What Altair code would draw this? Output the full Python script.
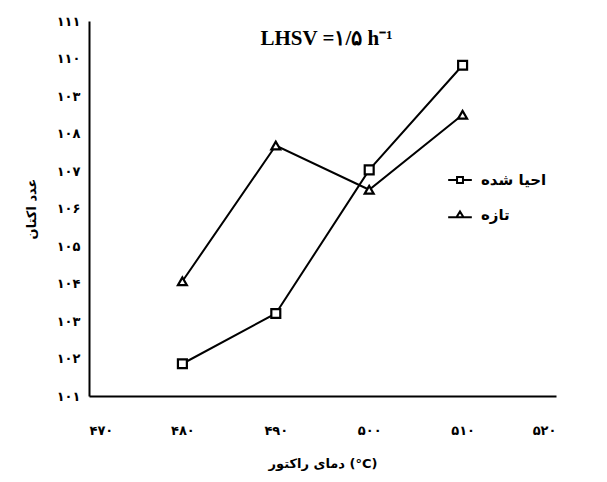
import altair as alt
import pandas as pd

temps = [480, 490, 500, 510]
regenerated = [101.86, 103.2, 107.03, 109.82]
fresh = [104.06, 107.68, 106.5, 108.5]
series_names = ["احیا شده", "تازه"]

x_ticks = [470, 480, 490, 500, 510, 520]
x_tick_labels = ["۴۷۰", "۴۸۰", "۴۹۰", "۵۰۰", "۵۱۰", "۵۲۰"]
y_ticks = list(range(101, 112))
y_tick_labels = ["۱۰۱", "۱۰۲", "۱۰۳", "۱۰۴", "۱۰۵", "۱۰۶", "۱۰۷", "۱۰۸", "۱۰۳", "۱۱۰", "۱۱۱"]

rows = []
for t, v in zip(temps, regenerated):
    rows.append({"T": t, "v": v, "s": series_names[0]})
for t, v in zip(temps, fresh):
    rows.append({"T": t, "v": v, "s": series_names[1]})
df = pd.DataFrame(rows)

def arr(lst):
    return "[" + ",".join("'" + s + "'" for s in lst) + "]"

FONT = "DejaVu Sans"

x_enc = alt.X("T:Q", scale=alt.Scale(domain=[470, 520]),
              axis=alt.Axis(values=x_ticks, labelExpr=arr(x_tick_labels) + "[(datum.value-470)/10]",
                            title="دمای راکتور (°C)", grid=False, ticks=False,
                            domainColor="black", domainWidth=2, labelPadding=28,
                            labelOverlap=False, labelSeparation=0,
                            labelFont=FONT, labelFontSize=13, labelFontWeight="bold",
                            labelColor="black", titleFont=FONT, titleFontSize=13,
                            titleFontWeight="bold", titleColor="black", titlePadding=20))
y_enc = alt.Y("v:Q", scale=alt.Scale(domain=[101, 111]),
              axis=alt.Axis(values=y_ticks, labelExpr=arr(y_tick_labels) + "[datum.value-101]",
                            title="عدد اکتان", grid=False, ticks=False,
                            domainColor="black", domainWidth=2, labelPadding=9,
                            labelOverlap=False, labelSeparation=0, labelBound=False,
                            labelFont=FONT, labelFontSize=13, labelFontWeight="bold",
                            labelColor="black", titleFont=FONT, titleFontSize=13,
                            titleFontWeight="bold", titleColor="black", titlePadding=18))

lines = alt.Chart(df).mark_line(color="black", strokeWidth=2).encode(
    x=x_enc, y=y_enc, detail="s:N")

points = alt.Chart(df).mark_point(filled=True, fill="white", stroke="black",
                                  strokeWidth=2.2, size=80, opacity=1).encode(
    x=x_enc, y=y_enc,
    shape=alt.Shape("s:N", scale=alt.Scale(domain=series_names, range=["square", "triangle-up"]),
                    legend=None))

sq_path = "M-1,0H-0.25M0.25,0H1M-0.25,-0.25H0.25V0.25H-0.25Z"
tri_path = "M-1,0.2H-0.3M0.3,0.2H1M0,-0.3L0.3,0.2H-0.3Z"

legend_layer = alt.Chart(df).mark_point(opacity=0, size=560).encode(
    x=x_enc, y=y_enc,
    shape=alt.Shape("s:N", scale=alt.Scale(domain=series_names, range=[sq_path, tri_path]),
                    legend=alt.Legend(title=None, orient="none", legendX=358, legendY=146,
                                      symbolSize=560, symbolStrokeWidth=2, symbolOpacity=1,
                                      symbolStrokeColor="black", symbolFillColor="white",
                                      labelFont=FONT, labelFontSize=15, labelFontWeight="bold",
                                      labelColor="black", rowPadding=14, labelOffset=8)))

chart = alt.layer(lines, points, legend_layer).resolve_scale(shape="independent").properties(
    width=467, height=375,
    padding={"left": 81, "top": 13, "right": 43, "bottom": 78},
    autosize=alt.AutoSizeParams(type="none"),
    title=alt.TitleParams("LHSV =۱/۵ h⁻¹", font="Liberation Serif", fontSize=21,
                          fontWeight="bold", color="black", dy=38, anchor="middle", dx=4),
).configure_view(stroke=None).configure_axis(labelOverlap=False)

chart.save("out.html", embed_options={"renderer": "svg", "actions": False})
